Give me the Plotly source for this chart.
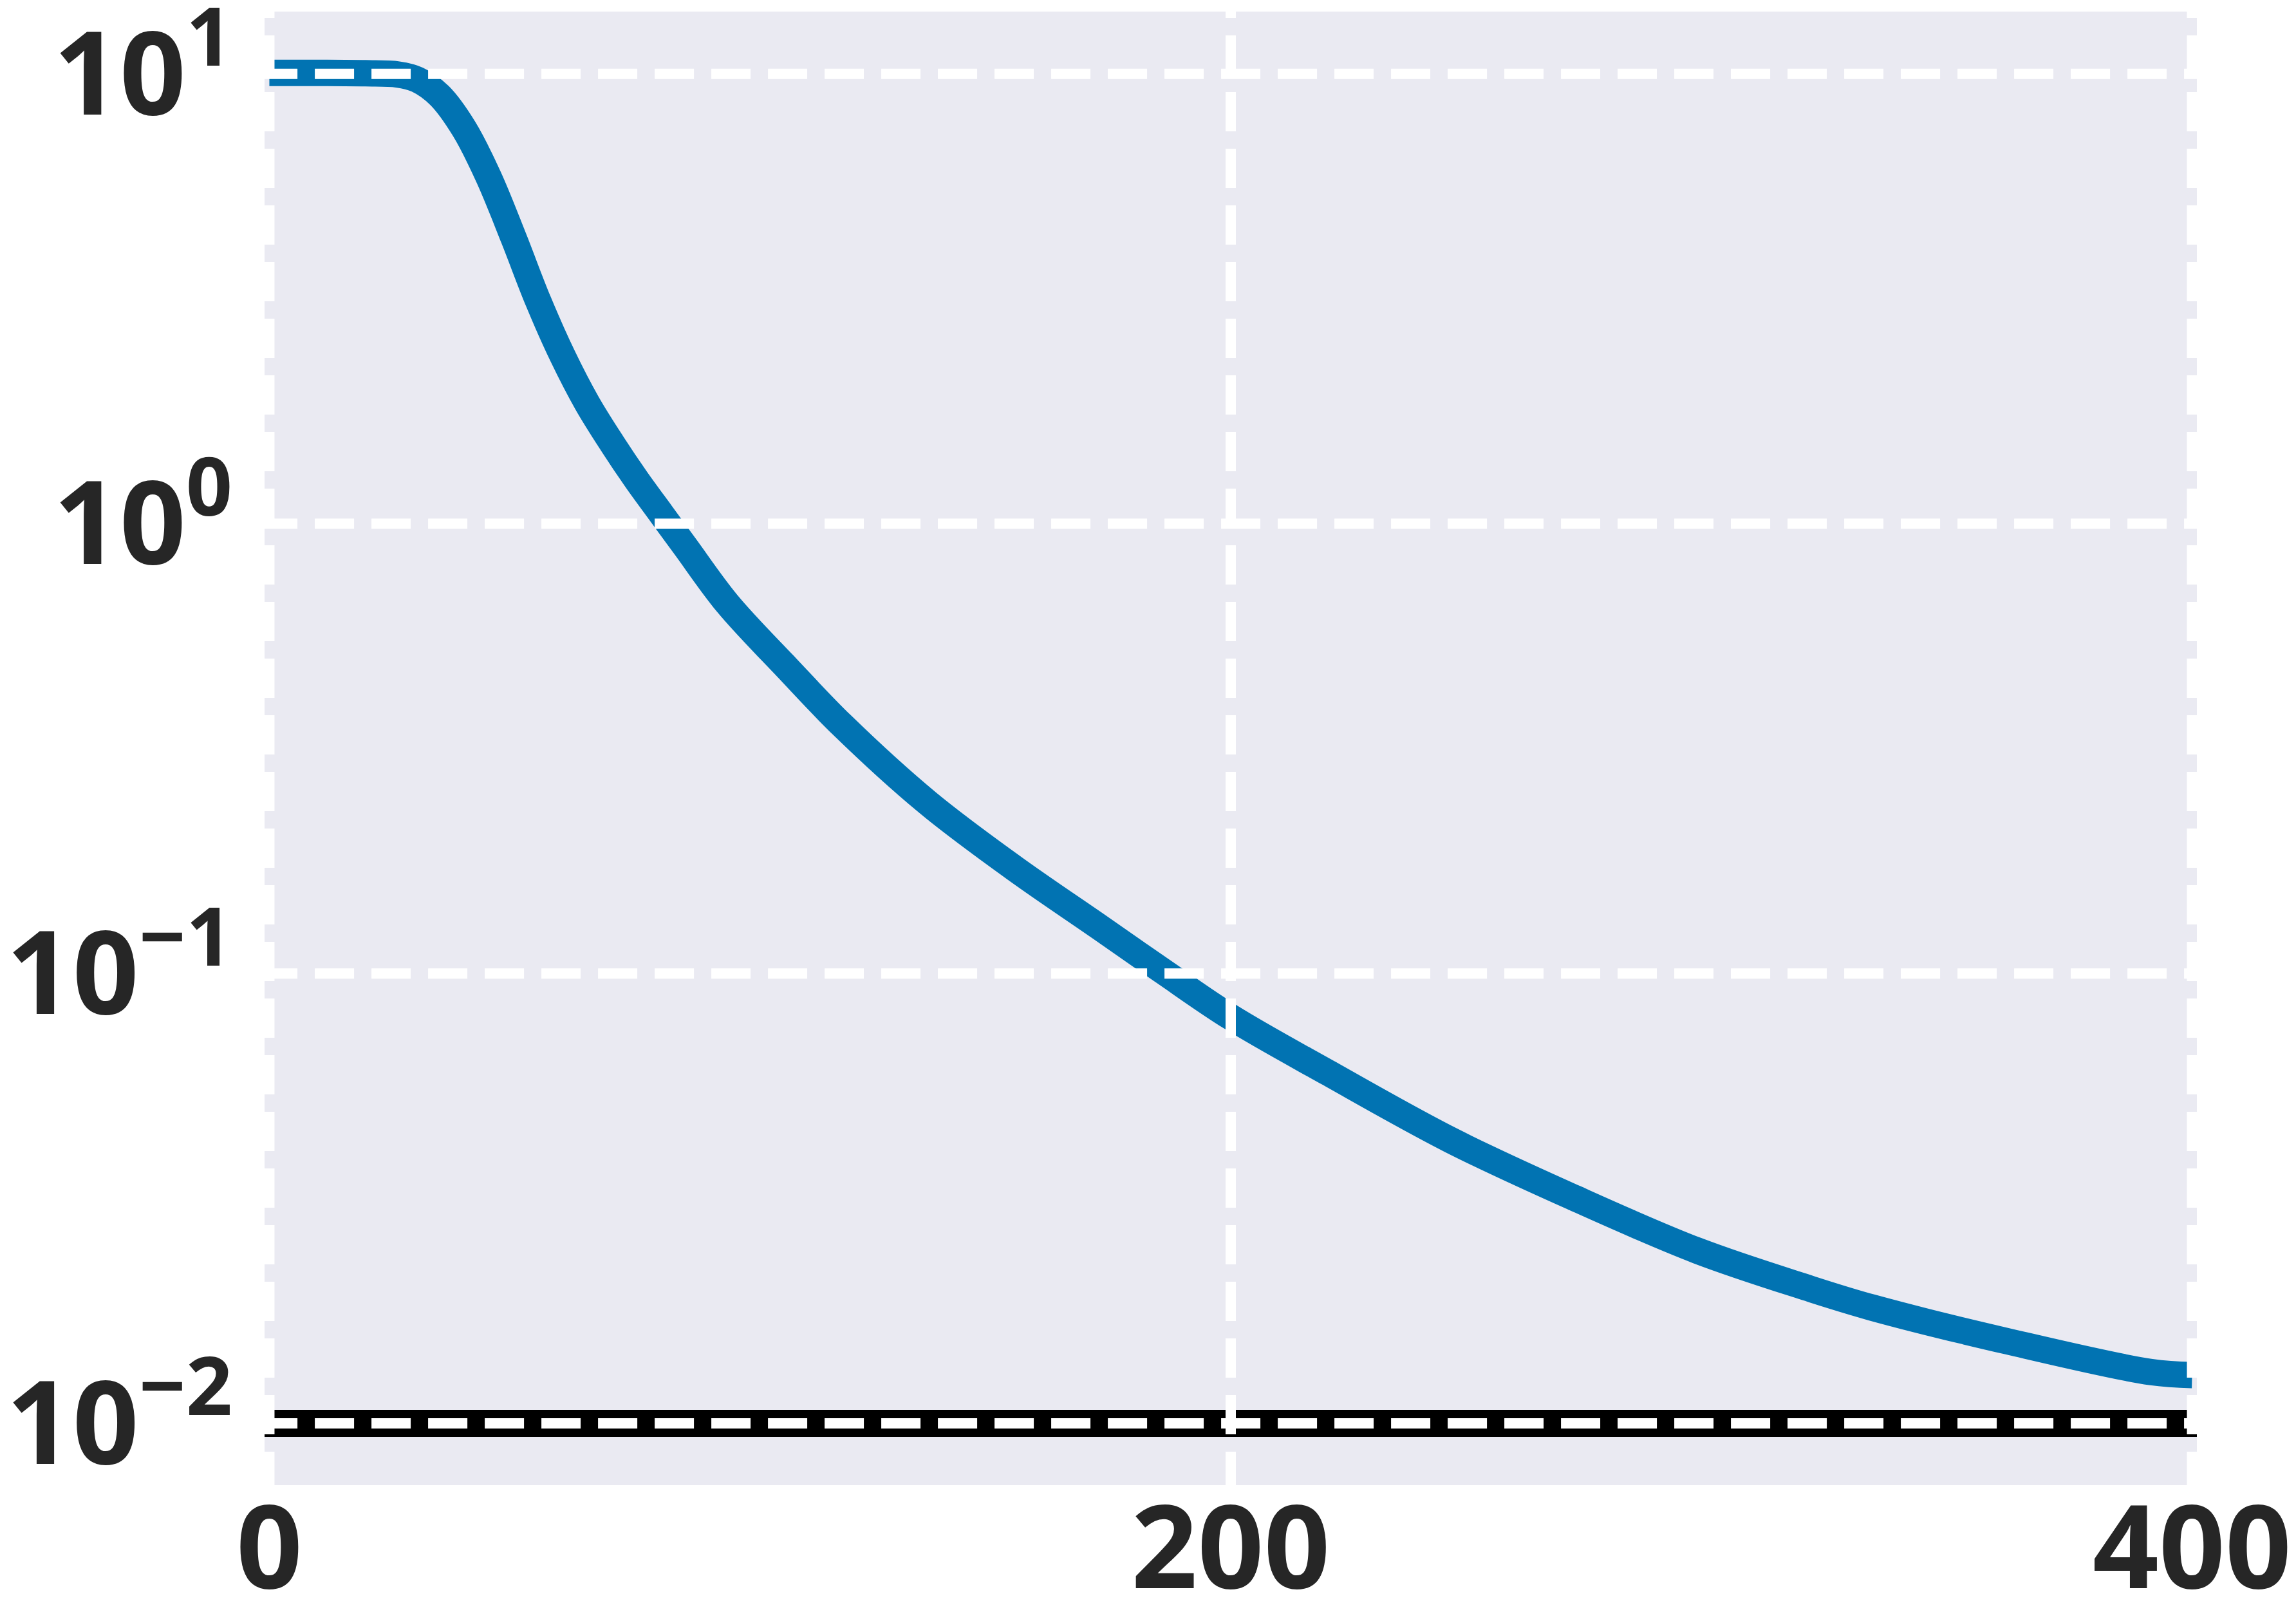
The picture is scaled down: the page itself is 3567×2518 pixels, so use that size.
import plotly.graph_objects as graph_objects

# training steps and the loss
STEPS = [0, 10, 20, 26.7, 30.8, 35.4, 40.5, 45.6, 50.8, 55.9, 61.0, 66.1, 71.3, 76.4, 81.5, 86.6,
         95.3, 107.7, 119.1, 136.9, 154.8, 172.6, 186, 200, 220.2, 245.8, 271.5, 297.1, 320,
         333.3, 361.8, 391.4, 400]
LOSS = [10.05, 10.05, 10.03, 9.97, 9.71, 8.95, 7.55, 5.90, 4.32, 3.13, 2.36, 1.853, 1.508, 1.251, 1.053,
        0.887, 0.664, 0.478, 0.357, 0.240, 0.172, 0.127, 0.101, 0.080, 0.0602, 0.0426, 0.0317, 0.0242,
        0.0200, 0.0181, 0.0152, 0.0130, 0.0128]

# horizontal reference level
TARGET = 0.01

X_TICKS = [0, 200, 400]
Y_EXPONENTS = [-2, -1, 0, 1]

BACKGROUND = "#EAEAF2"
TEXT_COLOR = "#262626"
LINE_COLOR = "#0173B2"
GRID_DASH = "61px,27px"
FONT = dict(family="Noto Sans, DejaVu Sans", size=180, color=TEXT_COLOR, weight="bold")


def power_label(exponent: int) -> str:
    '''Formats an exponent as 10 to the power, like matplotlib does on log axes'''
    sign = "\u2212" if exponent < 0 else ""
    return f"10<sup>{sign}{abs(exponent)}</sup>"


def visualise_loss() -> graph_objects.Figure:
    fig = graph_objects.Figure()

    # simplify off, otherwise plotly drops points and the spline gets corners
    fig.add_trace(
        graph_objects.Scatter(x=STEPS, y=LOSS, mode="lines", showlegend=False, hoverinfo="skip",
                              line=dict(color=LINE_COLOR, width=41, shape="spline", smoothing=1.0,
                                        simplify=False))
    )

    # the target line sits above the curve but below the grid, as in the original
    fig.add_shape(type="line", xref="paper", x0=0, x1=1, yref="y", y0=TARGET, y1=TARGET,
                  line=dict(color="black", width=42), layer="above")

    # grid lines are drawn on top of the data, so they are shapes rather than axis grids
    for exponent in Y_EXPONENTS:
        value = 10.0 ** exponent
        fig.add_shape(type="line", xref="paper", x0=-0.0033, x1=1, yref="y", y0=value, y1=value,
                      line=dict(color="white", width=16, dash=GRID_DASH), layer="above")
    for value in X_TICKS:
        fig.add_shape(type="line", xref="x", x0=value, x1=value, yref="paper", y0=-0.0039, y1=1,
                      line=dict(color="white", width=16, dash=GRID_DASH), layer="above")

    fig.update_layout(
        width=3567,
        height=2518,
        margin=dict(l=403, r=162, t=10, b=219, autoexpand=False),
        paper_bgcolor="white",
        plot_bgcolor=BACKGROUND,
        font=FONT,
        hovermode=False,
        showlegend=False,
    )
    fig.update_xaxes(range=[-1, 401], tickmode="array", tickvals=X_TICKS,
                     ticktext=[str(v) for v in X_TICKS], showgrid=False, zeroline=False,
                     showline=False, ticks="", tickfont=FONT, ticklabelstandoff=-21,
                     ticklabeloverflow="allow", automargin=False)
    fig.update_yaxes(type="log", range=[-2.1375, 1.1385], tickmode="array",
                     tickvals=[10.0 ** e for e in Y_EXPONENTS],
                     ticktext=[power_label(e) for e in Y_EXPONENTS], showgrid=False, zeroline=False,
                     showline=False, ticks="", tickfont=FONT, ticklabelstandoff=49,
                     ticklabeloverflow="allow", automargin=False)

    return fig


fig = visualise_loss()
fig.write_html("out.html")
